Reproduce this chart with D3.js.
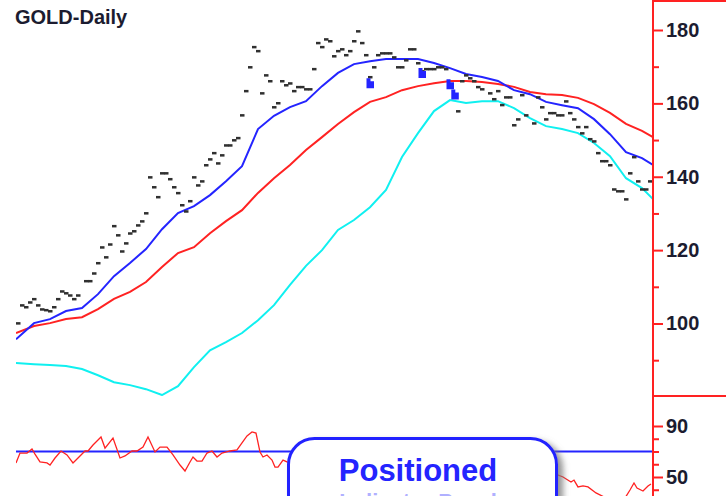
<!DOCTYPE html>
<html><head><meta charset="utf-8">
<script src="https://cdn.jsdelivr.net/npm/d3@7"></script>
<style>html,body{margin:0;padding:0;background:#fff;}svg{display:block;}</style>
</head><body>
<script>
// ---- data ----
const title = "GOLD-Daily";
// daily closes, index = trading day (null = not visible)
const closes = [100.1,105.0,104.5,105.8,106.7,105.0,103.9,103.7,103.4,104.5,
106.7,108.8,108.3,107.7,106.7,107.7,null,111.6,111.6,113.7,
116.5,120.8,118.1,121.6,126.6,124.1,119.7,121.9,124.6,125.2,
126.8,127.9,130.1,139.9,137.2,134.5,141.0,141.0,139.4,137.2,
135.6,132.3,130.6,133.4,139.9,137.7,138.8,143.2,144.8,146.5,
143.7,145.9,148.6,148.6,150.0,150.6,156.8,163.4,169.9,175.4,
174.3,162.8,167.7,166.1,159.0,160.1,166.1,165.0,165.5,163.4,
164.5,164.5,163.9,163.9,169.4,176.5,175.4,177.5,177.0,172.9,
174.3,174.8,173.2,174.3,177.0,179.7,176.5,173.2,167.2,169.9,
173.2,173.7,173.7,173.7,172.6,169.9,169.9,171.8,174.8,174.8,
171.0,168.8,169.4,169.4,169.4,169.9,169.9,169.4,null,null,
157.9,166.1,167.7,166.9,166.1,164.5,163.9,null,162.8,161.2,
163.4,159.6,161.7,161.7,154.1,155.7,162.3,156.8,null,154.6,
161.7,159.0,155.7,157.4,157.4,156.8,156.8,160.6,157.4,155.7,
153.6,151.9,153.6,150.3,149.7,146.5,144.3,144.3,143.2,136.6,
136.1,136.1,133.9,141.0,145.4,138.8,136.6,136.6,138.8];
// moving-average / band lines, sampled on these days
const lineDays = [-0.5,4,8,12,16,20,24,28,32,36,40,44,48,52,56,60,64,68,72,76,
80,84,88,92,96,100,104,108,112,116,120,124,128,132,136,140,144,148,152,156,158.75];
const blueLine = [95.7,100.1,101.2,103.4,104.2,108.0,112.9,116.5,120.3,125.7,
130.1,132.0,135.0,138.8,142.9,153.0,156.6,159.0,160.6,164.7,
168.3,170.7,171.5,172.1,172.1,172.1,171.0,169.6,168.0,167.2,
166.1,163.6,162.5,160.4,159.5,158.7,155.7,151.6,146.7,145.1,143.2];
const redLine = [97.4,99.3,100.1,101.2,101.7,103.9,106.7,108.6,111.3,115.4,
119.2,120.8,124.6,127.9,130.9,135.6,139.6,143.2,147.3,150.8,
154.4,157.6,160.4,161.7,163.6,164.7,165.5,166.1,166.1,165.8,
165.3,164.5,163.1,162.5,162.3,161.5,159.8,157.4,154.4,152.5,150.8];
const cyanLine = [89.2,88.9,88.7,88.4,87.6,85.9,84.0,83.2,82.1,80.5,
82.9,88.1,92.7,94.9,97.4,100.9,105.0,110.5,115.7,120.0,
125.5,128.2,131.7,136.4,145.4,151.9,157.9,160.9,160.1,160.6,
160.6,158.7,156.0,153.8,153.0,151.9,149.2,145.6,139.6,136.9,133.9];
// signal markers
const markerDays = [88,101,108,109.2];
const markerValues = [165.5,168.3,165.2,162.4];
// lower oscillator panel
const oscDays = [-0.5,0.5,2.25,3.5,4.25,5.5,7.25,8,9.25,10.75,12.25,13.75,15,16.75,17.5,18.75,
20.75,21.75,23.75,25.5,26.75,28.5,29.75,31.25,32.5,34.25,35.5,37.25,38.75,40.5,41.75,43,
43.75,44.75,46,47.25,48.5,49.75,51,53,54.75,56,57.25,58.5,59.5,60.5,61.25,62.25,63.5,64.25,
65,66.25,67.25,69.25,
133,136.25,138.25,139,140,141.25,142.5,144.5,148,151.75,153,154,154.75,156.25,157.5,158.25];
const oscValues = [61.0,68.8,68.8,72.0,68.0,61.8,61.0,59.4,64.9,70.4,67.3,61.0,64.9,70.4,70.4,75.1,
81.4,72.7,80.6,64.9,66.5,70.4,70.4,73.5,81.4,69.6,73.5,73.5,67.3,59.4,54.7,61.8,
65.7,62.5,62.5,68.8,70.4,65.7,68.8,70.4,71.2,76.7,82.2,85.3,84.5,69.6,65.7,67.3,63.3,57.8,
57.8,63.3,61.8,59.4,
54.0,50.0,46.1,47.6,42.2,43.0,42.2,37.5,32.0,33.5,39.8,45.3,41.4,39.0,42.9,44.5];
const oscLevel = 70;
const priceTicks = [180,160,140,120,100];
const priceMinor = [170,150,130,110,90];
const oscTicks = [90,50];
const oscMinor = [80,70,60,40];
const calloutText = "Positioned";
const calloutSub = "Indicator Panel";

// ---- drawing ----
const W = 726, H = 496;
const svg = d3.select("body").append("svg").attr("width", W).attr("height", H)
  .style("font-family", "'Liberation Sans', Arial, sans-serif");
const defs = svg.append("defs");
defs.append("clipPath").attr("id","cp").append("rect").attr("x",16).attr("y",0).attr("width",637).attr("height",396);
defs.append("clipPath").attr("id","cl").append("rect").attr("x",16).attr("y",396).attr("width",637).attr("height",100);
const f = defs.append("filter").attr("id","sh").attr("x","-10%").attr("y","-10%").attr("width","130%").attr("height","140%");
f.append("feDropShadow").attr("dx",5).attr("dy",4).attr("stdDeviation",3).attr("flood-color","#777").attr("flood-opacity",0.8);

const axisX = 653;
const x = d3.scaleLinear().domain([-0.5, 158.75]).range([16, axisX]);
const y = d3.scaleLinear().domain([100, 180]).range([323.5, 30]);
const y2 = d3.scaleLinear().domain([50, 90]).range([477, 426]);

const red = "#ff2222", blue = "#2424ff", cyan = "#10f0f0";

// title
svg.append("text").attr("x",15).attr("y",24).text(title)
  .attr("font-size",20).attr("font-weight","bold").attr("fill","#1c1c30");

// upper panel
const up = svg.append("g").attr("clip-path","url(#cp)");
const lineGen = arr => d3.line().x((d,i)=>x(lineDays[i])).y(d=>y(d))(arr);
up.append("path").attr("d", lineGen(cyanLine)).attr("fill","none").attr("stroke",cyan).attr("stroke-width",2);
up.append("path").attr("d", lineGen(redLine)).attr("fill","none").attr("stroke",red).attr("stroke-width",2);
up.append("path").attr("d", lineGen(blueLine)).attr("fill","none").attr("stroke",blue).attr("stroke-width",2);
up.selectAll("rect.c").data(closes.map((v,i)=>({v,i})).filter(d=>d.v!==null)).join("rect")
  .attr("class","c").attr("x",d=>x(d.i)-2).attr("y",d=>y(d.v)-1).attr("width",4.5).attr("height",2.5).attr("fill","#303030");
up.selectAll("path.m").data(markerDays.map((d,i)=>({d,v:markerValues[i]}))).join("path")
  .attr("class","m")
  .attr("d", d => { const cx = x(d.d), cy = y(d.v);
    return `M${cx-3.5},${cy-5}h4v3h3.5v7h-7.5z`; })
  .attr("fill", blue);

// lower panel
const lo = svg.append("g").attr("clip-path","url(#cl)");
lo.append("line").attr("x1",16).attr("x2",axisX).attr("y1",y2(oscLevel)).attr("y2",y2(oscLevel)).attr("stroke",blue).attr("stroke-width",2);
const seg1 = oscDays.map((d,i)=>[d,oscValues[i]]);
const split = oscDays.indexOf(133);
lo.append("path").attr("d", d3.line().x(d=>x(d[0])).y(d=>y2(d[1]))(seg1.slice(0,split)))
  .attr("fill","none").attr("stroke",red).attr("stroke-width",1.3);
lo.append("path").attr("d", d3.line().x(d=>x(d[0])).y(d=>y2(d[1]))(seg1.slice(split)))
  .attr("fill","none").attr("stroke",red).attr("stroke-width",1.3);

// axes (right, red)
svg.append("line").attr("x1",axisX).attr("x2",axisX).attr("y1",0).attr("y2",H).attr("stroke",red).attr("stroke-width",2);
svg.append("line").attr("x1",axisX).attr("x2",W).attr("y1",1).attr("y2",1).attr("stroke",red).attr("stroke-width",2);
svg.append("line").attr("x1",axisX).attr("x2",W).attr("y1",396).attr("y2",396).attr("stroke",red).attr("stroke-width",2);

function styleAxis(g){
  g.select(".domain").remove();
  g.selectAll("line").attr("stroke",red).attr("stroke-width",2);
  g.selectAll("text").attr("font-size",20).attr("font-weight","bold").attr("fill","#1c1c30")
   .attr("font-family","'Liberation Sans', Arial, sans-serif");
}
svg.append("g").attr("transform",`translate(${axisX},0)`)
  .call(d3.axisRight(y).tickValues(priceTicks).tickSize(10).tickPadding(3).tickFormat(d3.format("d"))).call(styleAxis);
svg.append("g").attr("transform",`translate(${axisX},0)`)
  .call(d3.axisRight(y).tickValues(priceMinor).tickSize(6).tickFormat("")).call(styleAxis);
svg.append("g").attr("transform",`translate(${axisX},0)`)
  .call(d3.axisRight(y2).tickValues(oscTicks).tickSize(10).tickPadding(3).tickFormat(d3.format("d"))).call(styleAxis);
svg.append("g").attr("transform",`translate(${axisX},0)`)
  .call(d3.axisRight(y2).tickValues(oscMinor).tickSize(6).tickFormat("")).call(styleAxis);

// callout
const cg = svg.append("g");
cg.append("rect").attr("x",288.5).attr("y",438.5).attr("width",268).attr("height",120).attr("rx",26)
  .attr("fill","#fff").attr("stroke",blue).attr("stroke-width",3).attr("filter","url(#sh)");
cg.append("text").attr("x",418).attr("y",481).attr("text-anchor","middle").text(calloutText)
  .attr("font-size",31).attr("font-weight","bold").attr("fill",blue);
cg.append("text").attr("x",418).attr("y",509).attr("text-anchor","middle").text(calloutSub)
  .attr("font-size",22).attr("font-weight","bold").attr("fill","#b0b0ff");
</script>
</body></html>
